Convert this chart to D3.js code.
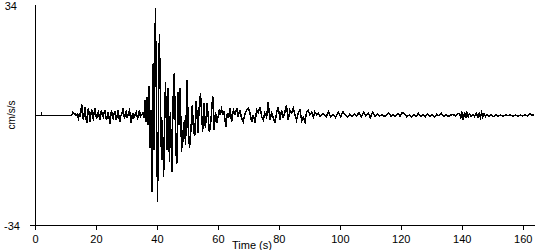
<!DOCTYPE html>
<html>
<head>
<meta charset="utf-8">
<script src="https://cdn.jsdelivr.net/npm/d3@7"></script>
<style>
  body { margin: 0; background: #fff; }
  svg { display: block; }
  text { font-family: "Liberation Sans", Arial, sans-serif; font-size: 11px; fill: #000; }
</style>
</head>
<body>
<div class="chart"></div>
<script>
var w = 550;
var h = 250;

// time in seconds, acceleration in cm/s/s
var timeSec = [
  0, 2.0, 2.1, 2.3, 12.0, 12.4, 13.0,
  13.5, 13.8, 14.2, 14.5, 14.8, 15.05, 15.3, 15.6, 15.9, 16.15,
  16.4, 16.7, 17.0, 17.25, 17.5, 17.8, 18.05, 18.3, 18.6, 18.85,
  19.1, 19.4, 19.7, 19.95, 20.2, 20.5, 20.8, 21.05, 21.3, 21.55,
  21.8, 22.1, 22.4, 22.65, 22.9, 23.2, 23.5, 23.75, 24.0, 24.3,
  24.6, 24.85, 25.1, 25.35, 25.6, 25.9, 26.2, 26.45, 26.7, 27.0,
  27.3, 27.55, 27.8, 28.1, 28.4, 28.65, 28.9, 29.15, 29.4, 29.65,
  29.9, 30.2, 30.5, 30.75, 31.0, 31.3, 31.6, 31.85, 32.1, 32.35,
  32.6, 32.9, 33.2, 33.45, 33.7, 34.0, 34.3, 34.55, 34.8,
  35.4, 35.8, 36.1, 36.4, 36.7, 37.1, 37.4, 37.8, 38.0, 38.4,
  38.8, 39.1, 39.5, 40.2, 40.8, 41.5, 41.8, 42.2, 42.8, 43.3,
  43.7, 44.1, 44.4, 44.9, 45.3, 45.7, 46.2, 46.5, 46.9, 47.2,
  47.6, 48.1, 48.4, 48.7, 49.0, 49.4, 49.9, 50.3, 50.7, 51.2,
  51.6, 52.0, 52.4, 52.9, 53.5, 53.8, 54.3, 55.0, 55.4, 55.9,
  56.5, 57.2, 57.6, 58.3, 58.8, 59.2, 59.7, 60.5, 60.8, 61.2,
  61.7, 62.0, 62.6, 63.1, 63.5, 64.0, 64.5, 65.1, 65.6, 66.2,
  66.6, 67.2, 67.7, 68.3, 68.9, 69.4, 70.0, 70.5, 71.1, 71.6,
  72.2, 72.7, 73.2, 73.8, 74.4, 74.9, 75.4, 76.0, 76.5, 77.1,
  77.6, 78.2, 78.7, 79.3, 79.8, 80.4, 80.9, 81.4, 82.0, 82.5,
  83.1, 83.6, 84.2, 84.7, 85.3, 85.8, 86.4, 86.9, 87.5, 88.0,
  88.6, 89.1, 89.6, 90.2, 90.8, 91.3, 91.8, 92.4, 92.9, 93.5,
  94.5, 95.5, 96.3, 97.0, 97.8, 98.6, 99.5, 100.3, 101.0, 101.8,
  102.5, 103.3, 104.0, 104.8, 105.5, 106.3, 107.0, 107.8, 108.5, 109.3,
  110.0, 110.8, 111.5, 112.3, 113.0, 113.8, 114.5, 115.3, 116.0, 116.8,
  117.5, 118.3, 119.0, 119.8, 120.5, 121.3, 122.0, 122.8, 123.5, 124.3,
  125.0, 125.8, 126.5, 127.3, 128.0, 128.8, 129.5, 130.3, 131.0, 131.8,
  132.5, 133.3, 134.0, 134.8, 135.5, 136.3, 137.2, 138.0, 138.8,
  139.3, 139.7, 140.1, 140.5, 140.9, 141.3, 141.7, 142.1, 142.5, 143.0,
  143.6, 144.2, 144.8, 145.3, 145.7, 146.1, 146.5, 146.9, 147.3, 147.8,
  148.3, 149.0, 149.7, 150.4, 151.2, 152.0, 152.8, 153.6, 154.4, 155.2,
  156.0, 156.8, 157.6, 158.4, 159.2, 160.0, 160.8, 161.6, 162.4, 163.0, 163.8
];

var accel = [
  0, 0, 0.5, 0, 0, 1.0, 0.6,
  0, 0.4, -0.9, 0.3, -0.5, 1.2, 3.7, 0.2, -1.4, 0.8,
  2.7, -0.6, -2.4, 0.5, 2.2, 0.1, -1.9, 0.4, 1.9, -0.3,
  -0.9, 0.9, 2.2, 0.3, -1.2, 0.6, 1.1, -0.4, -1.4, 0.7,
  1.6, 0.1, -0.5, 0.9, 1.6, -0.3, -1.4, 0.2, 1.1, -0.6,
  -2.5, 0.4, 1.6, -0.2, -0.9, 0.5, 1.1, -0.5, -1.4, 0.3,
  1.6, -0.4, -1.9, -0.2, 0.3, 1.0, 2.2, 0.1, -0.9, 0.6,
  1.1, -0.5, 0, 1.0, 1.6, -0.5, -2.4, -0.2, 0.6, -0.8,
  -0.5, 0.6, 1.1, -0.2, -0.9, 0.5, 1.6, -0.4, 0,
  0.8, -0.8, 4.8, -2.0, 5.7, -2.9, 9.1, -10.0, 1.7, -23.8,
  16.2, -10.6, 33.4, -26.9, 25.4, -13.7, -1.4, -19.2, 10.3, -10.6,
  8.5, -14.3, 1.1, -17.4, 4.8, 13.1, -10.0, -15.2, 7.2, -2.9,
  8.5, -11.2, -4.5, -8.2, -1.4, -9.1, 10.9, -4.5, -10.0, -3.8,
  3.2, -4.5, -6.3, 4.5, -5.4, 1.7, 6.9, -5.1, 3.8, -3.8,
  3.8, -5.1, -2.9, 6.0, -4.5, 1.1, -2.3, 2.0, 0.2, 2.0,
  0.5, 1.4, -3.5, 0.8, -0.8, 2.3, -2.0, 1.7, 0.5, 2.3,
  -0.5, 1.7, -0.5, -2.0, 0.5, 1.7, 2.3, 0.8, -2.0, 0.2,
  -2.3, 1.7, 0.8, 2.6, -0.5, -1.4, 0.8, -0.5, 4.2, -1.4,
  0.8, -0.8, -2.3, 1.1, 2.6, -1.4, 1.7, -0.8, 1.1, 3.2,
  -1.4, 1.7, 0.8, 2.3, 0.2, -1.4, 0.8, 1.7, -1.7, -0.5,
  -2.0, 1.1, 1.7, 0.2, 1.1, -0.5, 1.1, 0.2, 0.8, -0.2,
  0.6, -0.4, 1.1, -0.5, 0.3, -0.6, 0.9, -0.4, 1.2, 0.1,
  -0.5, 0.4, -0.3, 0.5, -0.2, 0.9, -0.4, 1.0, 0.0, 0.8,
  -0.6, 1.1, -0.3, 0.5, -0.2, 0.3, -0.4, 0.2, 0.8, -0.2,
  0.3, -0.3, 0.6, -0.2, 0.9, 0.5, -0.4, 0.2, -0.5, 0.3,
  -0.2, 0.6, -0.3, 0.2, -0.4, 0.5, -0.2, 0.3, -0.5, 0.4,
  -0.1, 0.7, -0.3, 0.2, -0.3, 0.1, 0.3, -0.2, 0.6,
  0.5, -0.6, 1.2, -1.3, 1.0, -0.7, 0.8, -0.4, 0.5, -0.2,
  0.3, -0.3, 0.6, -0.5, 0.7, -0.6, 0.9, -0.5, 0.6, -0.3,
  0.4, -0.2, 0.3, -0.3, 0.2, -0.2, 0.1, -0.3, 0.2, -0.1,
  0.2, -0.2, 0.1, -0.2, 0.1, -0.1, 0.2, -0.1, 0.5, 0.1, 0.3
];

var xTicks = [0, 20, 40, 60, 80, 100, 120, 140, 160];
var yLimits = [-34, 34];

var svg = d3.select(".chart").append("svg")
  .attr("width", w)
  .attr("height", h);

var x = d3.scaleLinear().domain([0, 160]).range([35, 522.7]);
var y = d3.scaleLinear().domain(yLimits).range([225, 6]);

var data = timeSec.map(function (t, i) { return [t, accel[i]]; });

// trace, drawn without smoothing like the original plot
var line = d3.line()
  .x(function (d) { return x(d[0]); })
  .y(function (d) { return y(d[1]); });

svg.append("path")
  .datum(data)
  .attr("d", line)
  .attr("fill", "none")
  .attr("stroke", "#000")
  .attr("stroke-width", 1.5)
  .attr("shape-rendering", "crispEdges");

// axes
var xAxis = d3.axisBottom(x)
  .tickValues(xTicks)
  .tickSize(5)
  .tickSizeOuter(0)
  .tickFormat(d3.format("d"));

var gx = svg.append("g")
  .attr("transform", "translate(0," + y(-34) + ")")
  .call(xAxis);
gx.select(".domain").remove();
gx.selectAll("line").attr("stroke", "#000").attr("shape-rendering", "crispEdges");
gx.selectAll("text").attr("dy", "0.9em").style("font-size", "11px");

svg.append("line")
  .attr("x1", 30).attr("x2", 535)
  .attr("y1", Math.round(y(-34)) + 0.5).attr("y2", Math.round(y(-34)) + 0.5)
  .attr("stroke", "#000").attr("shape-rendering", "crispEdges");

svg.append("line")
  .attr("x1", 35.5).attr("x2", 35.5)
  .attr("y1", 5).attr("y2", Math.round(y(-34)) + 1)
  .attr("stroke", "#000").attr("shape-rendering", "crispEdges");

svg.append("text").attr("x", 17).attr("y", 10)
  .attr("text-anchor", "end").text(yLimits[1]);
svg.append("text").attr("x", 20).attr("y", 230)
  .attr("text-anchor", "end").text(yLimits[0]);

svg.append("text")
  .attr("transform", "translate(15,115) rotate(-90)")
  .attr("text-anchor", "middle")
  .style("font-size", "10px")
  .text("cm/s/s");

svg.append("text")
  .attr("x", 252).attr("y", 249)
  .attr("text-anchor", "middle")
  .text("Time (s)");
</script>
</body>
</html>
